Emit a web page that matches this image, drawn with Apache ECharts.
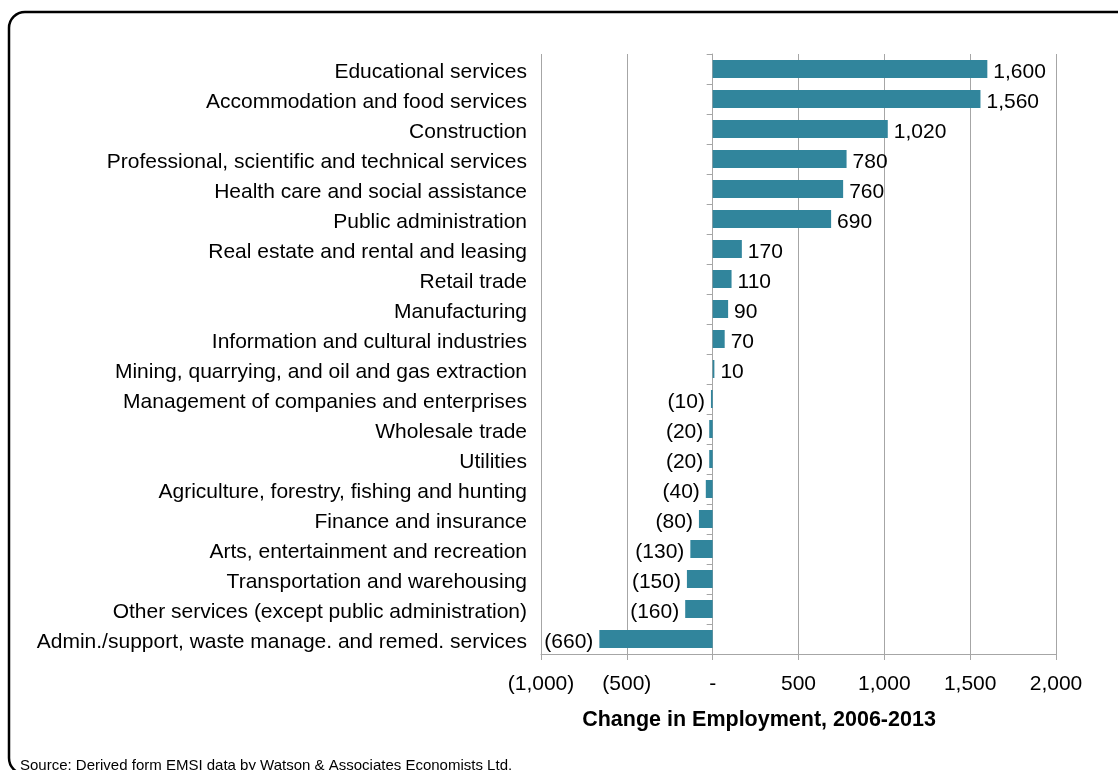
<!DOCTYPE html>
<html>
<head>
<meta charset="utf-8">
<script src="https://cdn.jsdelivr.net/npm/echarts@6/dist/echarts.min.js"></script>
<style>
  html, body { margin: 0; padding: 0; background: #fff; }
  #chart { width: 1118px; height: 770px; }
</style>
</head>
<body>
<div id="chart"></div>
<script>
// Employment change by industry, 2006-2013
const industries = [
  'Educational services',
  'Accommodation and food services',
  'Construction',
  'Professional, scientific and technical services',
  'Health care and social assistance',
  'Public administration',
  'Real estate and rental and leasing',
  'Retail trade',
  'Manufacturing',
  'Information and cultural industries',
  'Mining, quarrying, and oil and gas extraction',
  'Management of companies and enterprises',
  'Wholesale trade',
  'Utilities',
  'Agriculture, forestry, fishing and hunting',
  'Finance and insurance',
  'Arts, entertainment and recreation',
  'Transportation and warehousing',
  'Other services (except public administration)',
  'Admin./support, waste manage. and remed. services'
];
const employmentChange = [1600, 1560, 1020, 780, 760, 690, 170, 110, 90, 70, 10,
  -10, -20, -20, -40, -80, -130, -150, -160, -660];
const xTickLabels = ['(1,000)', '(500)', '-', '500', '1,000', '1,500', '2,000'];
const xMin = -1000, xMax = 2000, xStep = 500;

const FONT = '"Liberation Sans", Arial, sans-serif';
const BAR = '#31859C';
const GRIDLINE = '#a6a6a6';

function accounting(v) {
  const s = Math.abs(v).toLocaleString('en-US');
  return v < 0 ? '(' + s + ')' : s;
}

// label text nudged a few pixels down inside its box
const loweredY = { t: { padding: [6, 0, 0, 0], fontSize: 21, color: '#000', fontFamily: FONT } };
const loweredX = { t: { padding: [3, 0, 0, 0], fontSize: 21, color: '#000', fontFamily: FONT } };

const chart = echarts.init(document.getElementById('chart'), null, { renderer: 'canvas' });
chart.setOption({
  animation: false,
  backgroundColor: '#fff',
  textStyle: { fontFamily: FONT },
  grid: { left: 541, right: 62, top: 54, bottom: 116, containLabel: false },
  xAxis: {
    type: 'value',
    min: xMin, max: xMax, interval: xStep,
    axisLine: { show: true, onZero: false, lineStyle: { color: GRIDLINE, width: 1 } },
    axisTick: { show: true, length: 6, lineStyle: { color: GRIDLINE } },
    splitLine: { show: true, lineStyle: { color: GRIDLINE, width: 1 } },
    axisLabel: {
      margin: 17, color: '#000', fontSize: 21, fontFamily: FONT,
      rich: loweredX,
      formatter: v => '{t|' + xTickLabels[Math.round((v - xMin) / xStep)] + '}'
    }
  },
  yAxis: [
    {
      // category names, anchored at the left edge of the plot
      type: 'category', inverse: true, data: industries,
      axisLine: { show: false, onZero: false }, axisTick: { show: false },
      axisLabel: {
        margin: 14, color: '#000', fontSize: 21, fontFamily: FONT,
        rich: loweredY,
        formatter: v => '{t|' + v + '}'
      }
    },
    {
      // zero line with the band ticks
      type: 'category', inverse: true, data: industries, position: 'left',
      axisLine: { show: true, onZero: true, onZeroAxisIndex: 0, lineStyle: { color: GRIDLINE, width: 1 } },
      axisTick: { show: true, length: 6, lineStyle: { color: GRIDLINE } },
      axisLabel: { show: false }
    }
  ],
  series: [{
    type: 'bar',
    yAxisIndex: 0,
    data: employmentChange.map(v => ({
      value: v,
      label: { position: v < 0 ? 'left' : 'right' }
    })),
    barWidth: 18,
    itemStyle: { color: BAR },
    label: {
      show: true, distance: 6, color: '#000', fontSize: 21, fontFamily: FONT,
      offset: [0, 3],
      formatter: p => accounting(p.value)
    }
  }],
  graphic: [
    {
      type: 'rect', silent: true, z: 100,
      shape: { x: 9, y: 12, width: 1140, height: 762, r: 16 },
      style: { fill: 'none', stroke: '#000', lineWidth: 2.5 }
    },
    {
      type: 'text', silent: true,
      x: 759, y: 720,
      style: {
        text: 'Change in Employment, 2006-2013',
        font: 'bold 21.5px ' + FONT, fill: '#000',
        textAlign: 'center', textVerticalAlign: 'middle'
      }
    },
    {
      type: 'text', silent: true, x: 20, y: 758,
      style: {
        text: 'Source: Derived form EMSI data by Watson & Associates Economists Ltd.',
        font: '15px ' + FONT, fill: '#000',
        textAlign: 'left', textVerticalAlign: 'top'
      }
    }
  ]
});
</script>
</body>
</html>
